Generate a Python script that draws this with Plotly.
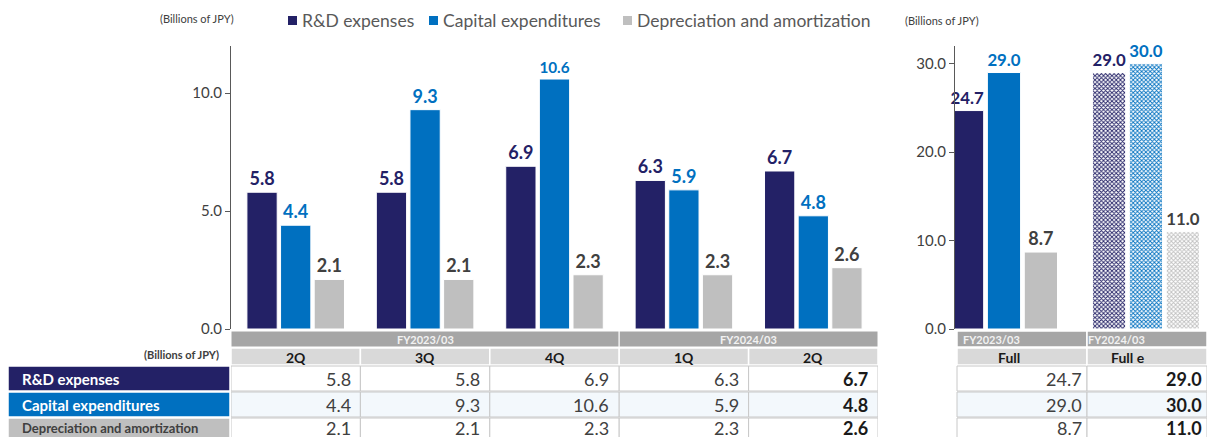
import plotly.graph_objects as go

# ---------------- data ----------------
quarters = ["2Q", "3Q", "4Q", "1Q", "2Q"]
quarter_fy_groups = [("FY2023/03", 0, 2), ("FY2024/03", 3, 4)]
rd_q = [5.8, 5.8, 6.9, 6.3, 6.7]
capex_q = [4.4, 9.3, 10.6, 5.9, 4.8]
da_q = [2.1, 2.1, 2.3, 2.3, 2.6]

annual_labels = ["Full", "Full e"]
annual_fy = ["FY2023/03", "FY2024/03"]
rd_y = [24.7, 29.0]
capex_y = [29.0, 30.0]
da_y = [8.7, 11.0]

series_names = ["R&D expenses", "Capital expenditures", "Depreciation and amortization"]
left_ticks = [0.0, 5.0, 10.0]
right_ticks = [0.0, 10.0, 20.0, 30.0]
unit_label = "(Billions of JPY)"

# ---------------- style ----------------
W, H = 1207, 437
NAVY = "#232166"
BLUE = "#0070c0"
GREY = "#bfbfbf"
TXT = "#404040"
LBL_COLORS = [NAVY, BLUE, "#404040"]
BAR_COLORS = [NAVY, BLUE, GREY]
FONT = "Lato"


def X(px):
    return px / W


def Y(py):
    return 1 - py / H


fig = go.Figure()

xq = list(range(len(quarters)))
for name, vals, col, lc in zip(series_names, [rd_q, capex_q, da_q], BAR_COLORS, LBL_COLORS):
    fig.add_trace(go.Bar(
        x=xq, y=vals, name=name, marker=dict(color=col, line=dict(color="white", width=1)),
        text=[f"{v:.1f}" for v in vals], textposition="outside",
        textfont=dict(family=FONT, size=18, color=lc, weight="bold"),
        cliponaxis=False, showlegend=False, xaxis="x", yaxis="y", hoverinfo="skip"))

xa = list(range(len(annual_labels)))
for name, vals, col, lc in zip(series_names, [rd_y, capex_y, da_y], BAR_COLORS, LBL_COLORS):
    fig.add_trace(go.Bar(
        x=xa, y=vals, name=name,
        marker=dict(color=col, line=dict(color="white", width=1),
                    pattern=dict(shape=["", "x"], fgcolor=col, bgcolor="white",
                                 size=3, solidity=0.5, fillmode="replace")),
        text=[f"{v:.1f}" for v in vals], textposition="outside",
        textfont=dict(family=FONT, size=18, color=lc, weight="bold"),
        cliponaxis=False, showlegend=False, xaxis="x2", yaxis="y2", hoverinfo="skip"))

shapes = []
ann = []

# ---------------- legend (manual) ----------------
leg_sq = [288, 429, 623]
leg_tx = [300, 441, 635]
for sx, tx, name, col in zip(leg_sq, leg_tx, series_names, BAR_COLORS):
    shapes.append(dict(type="rect", xref="paper", yref="paper", x0=X(sx), x1=X(sx + 9),
                       y0=Y(25), y1=Y(16), fillcolor=col, line=dict(width=0)))
    ann.append(dict(x=X(tx), y=Y(21), xref="paper", yref="paper", text=name, showarrow=False,
                    xanchor="left", yanchor="middle", font=dict(family=FONT, size=17.5, color="#595959")))

ann.append(dict(x=X(158), y=Y(19), xref="paper", yref="paper", text=unit_label, showarrow=False,
                xanchor="left", yanchor="middle", font=dict(family=FONT, size=11, color=TXT)))
ann.append(dict(x=X(903), y=Y(21), xref="paper", yref="paper", text=unit_label, showarrow=False,
                xanchor="left", yanchor="middle", font=dict(family=FONT, size=11, color=TXT)))

# ---------------- table geometry ----------------
band = (331, 347)
hdr = (348, 365)
rows = [(366, 391), (392, 417), (418, 440)]
row_bg = ["white", "#f3f8fc", "white"]

# left table (aligned to categories on x axis)
for fy, i0, i1 in quarter_fy_groups:
    shapes.append(dict(type="rect", xref="x", yref="paper", x0=i0 - 0.5, x1=i1 + 0.5,
                       y0=Y(band[1]), y1=Y(band[0]), fillcolor="#a6a6a6", line=dict(color="white", width=1)))
    ann.append(dict(x=(i0 + i1) / 2, y=Y((band[0] + band[1]) / 2), xref="x", yref="paper", text=f"<b>{fy}</b>",
                    showarrow=False, font=dict(family=FONT, size=11, color="#f2f2f2"), yanchor="middle"))
for i, q in enumerate(quarters):
    shapes.append(dict(type="rect", xref="x", yref="paper", x0=i - 0.5, x1=i + 0.5,
                       y0=Y(hdr[1]), y1=Y(hdr[0]), fillcolor="#d9d9d9", line=dict(color="white", width=1.5)))
    ann.append(dict(x=i, y=Y((hdr[0] + hdr[1]) / 2 + 1), xref="x", yref="paper", text=f"<b>{q}</b>",
                    showarrow=False, font=dict(family=FONT, size=14, color="#1a1a1a"), yanchor="middle"))
ann.append(dict(x=X(221), y=Y(354), xref="paper", yref="paper", text=f"<b>{unit_label}</b>", showarrow=False,
                xanchor="right", yanchor="middle", font=dict(family=FONT, size=11, color=TXT)))

label_fill = [NAVY, BLUE, GREY]
label_txt = ["white", "white", "#404040"]
label_size = [15, 15, 13]
for r, (y0, y1) in enumerate(rows):
    shapes.append(dict(type="rect", xref="paper", yref="paper", x0=X(8), x1=X(230),
                       y0=Y(y1), y1=Y(y0), fillcolor=label_fill[r], line=dict(color="white", width=1.5)))
    ann.append(dict(x=X(20), y=Y((y0 + min(y1, 437)) / 2), xref="paper", yref="paper",
                    text=f"<b>{series_names[r]}</b>", showarrow=False, xanchor="left", yanchor="middle",
                    font=dict(family=FONT, size=label_size[r], color=label_txt[r])))

for r, ((y0, y1), vals) in enumerate(zip(rows, [rd_q, capex_q, da_q])):
    for i, v in enumerate(vals):
        shapes.append(dict(type="rect", xref="x", yref="paper", x0=i - 0.5, x1=i + 0.5,
                           y0=Y(y1), y1=Y(y0), fillcolor=row_bg[r], line=dict(color="#c8c8c8", width=1)))
        last = i == len(vals) - 1
        ann.append(dict(x=i + 0.44, y=Y((y0 + min(y1, 437)) / 2), xref="x", yref="paper",
                        text=(f"<b>{v:.1f}</b>" if last else f"{v:.1f}"), showarrow=False,
                        xanchor="right", yanchor="middle",
                        font=dict(family=FONT, size=18, color="#1a1a1a" if last else TXT)))

# right table (paper coords)
rcols = [(957, 1087), (1087, 1207)]
for c, ((a, b), fy, lab) in enumerate(zip(rcols, annual_fy, annual_labels)):
    shapes.append(dict(type="rect", xref="paper", yref="paper", x0=X(a), x1=X(b),
                       y0=Y(band[1]), y1=Y(band[0]), fillcolor="#a6a6a6", line=dict(color="white", width=1.5)))
    ann.append(dict(x=X((a + b) / 2), y=Y((band[0] + band[1]) / 2), xref="paper", yref="paper",
                    text=f"<b>{fy}</b>", showarrow=False, yanchor="middle",
                    font=dict(family=FONT, size=11, color="#f2f2f2")))
    shapes.append(dict(type="rect", xref="paper", yref="paper", x0=X(a), x1=X(b),
                       y0=Y(hdr[1]), y1=Y(hdr[0]), fillcolor="#d9d9d9", line=dict(color="white", width=1.5)))
    ann.append(dict(x=X((a + b) / 2), y=Y((hdr[0] + hdr[1]) / 2 + 1), xref="paper", yref="paper",
                    text=f"<b>{lab}</b>", showarrow=False, yanchor="middle",
                    font=dict(family=FONT, size=14, color="#1a1a1a")))
    for r, ((y0, y1), vals) in enumerate(zip(rows, [rd_y, capex_y, da_y])):
        shapes.append(dict(type="rect", xref="paper", yref="paper", x0=X(a), x1=X(b),
                           y0=Y(y1), y1=Y(y0), fillcolor=row_bg[r], line=dict(color="#c8c8c8", width=1)))
        last = c == len(rcols) - 1
        v = vals[c]
        ann.append(dict(x=X(b - 3), y=Y((y0 + min(y1, 437)) / 2), xref="paper", yref="paper",
                        text=(f"<b>{v:.1f}</b>" if last else f"{v:.1f}"), showarrow=False,
                        xanchor="right", yanchor="middle",
                        font=dict(family=FONT, size=18, color="#1a1a1a" if last else TXT)))

ydom = [Y(329), Y(46)]
axis_common = dict(showgrid=False, zeroline=False, showline=True, linecolor="#595959", linewidth=1,
                   ticks="outside", ticklen=5, tickcolor="#595959", automargin=False,
                   tickfont=dict(family=FONT, size=15, color=TXT), tickformat=".1f")

fig.update_layout(
    width=W, height=H, margin=dict(l=0, r=0, t=0, b=0, pad=0, autoexpand=False),
    paper_bgcolor="white", plot_bgcolor="white",
    barmode="group", bargap=0.22, bargroupgap=0.1,
    xaxis=dict(domain=[X(231), X(878)], range=[-0.5, len(quarters) - 0.5], showticklabels=False,
               showgrid=False, zeroline=False, showline=False, ticks="", automargin=False),
    yaxis=dict(domain=ydom, range=[0, 12], tickvals=left_ticks, anchor="x", **axis_common),
    xaxis2=dict(domain=[X(955), 1.0], range=[-0.345, 1.43], showticklabels=False,
                showgrid=False, zeroline=False, showline=False, ticks="", anchor="y2", automargin=False),
    yaxis2=dict(domain=ydom, range=[0, 32], tickvals=right_ticks, anchor="x2", **axis_common),
    shapes=shapes, annotations=ann,
    font=dict(family=FONT),
)

fix_page = (
    "var de=document.documentElement,b=document.body;"
    "[de,b].forEach(function(e){e.style.margin='0';e.style.padding='0';e.style.overflow='hidden';});"
)
fig.write_html("out.html", config={"displayModeBar": False}, post_script=fix_page)
